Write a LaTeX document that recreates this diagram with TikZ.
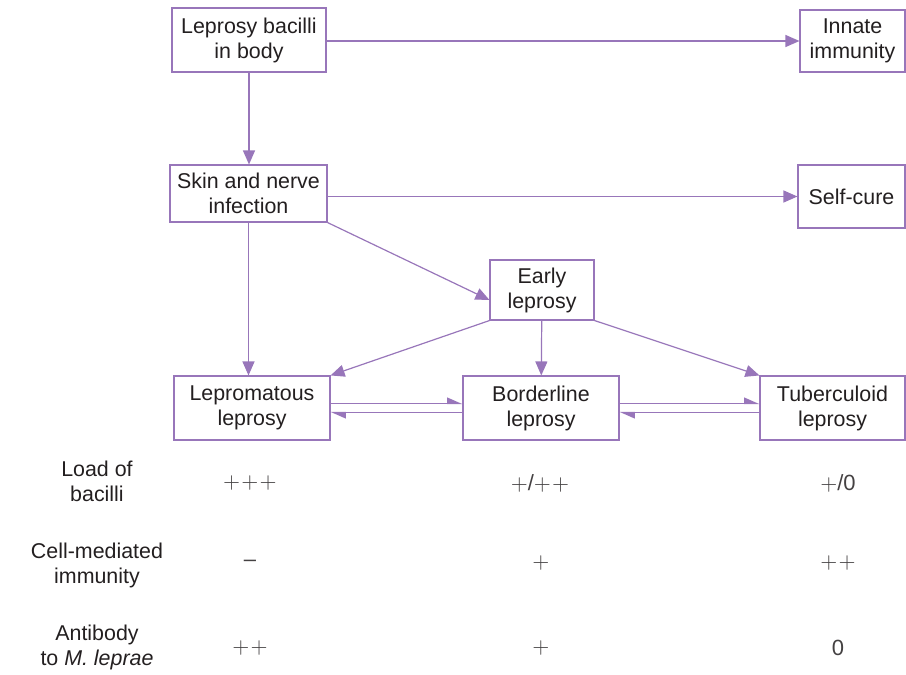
\documentclass[tikz,border=0pt]{standalone}
\usepackage{fontspec}
\setmainfont{Liberation Sans}
\usetikzlibrary{arrows.meta, positioning, calc}
\definecolor{lepPurple}{RGB}{152,118,186}
\definecolor{lepText}{RGB}{35,31,32}

\begin{document}
\begin{tikzpicture}[x=0.5pt, y=-0.5pt,
    box/.style={draw=lepPurple, line width=0.55pt, fill=white, align=center, inner sep=0pt,
      text=lepText, font=\fontsize{10.7}{12.5}\selectfont},
    lbl/.style={align=center, text=lepText, font=\fontsize{10.7}{12.5}\selectfont},
    val/.style={text=lepText!85, font=\fontsize{11}{13}\selectfont},
    flow/.style={draw=lepPurple, line width=0.6pt, -{Triangle[length=7pt, width=6pt]}},
    half/.style={draw=lepPurple, line width=0.6pt, -{Triangle[length=7pt, width=6pt, harpoon]}}]

  \useasboundingbox (0,0) rectangle (906,675);

  % boxes
  \node[box, minimum width=77pt, minimum height=32pt] (bacilli) at (249,40) {Leprosy bacilli\\in body};
  \node[box, minimum width=52.5pt, minimum height=31pt] (innate) at (852.5,41) {Innate\\immunity};
  \node[box, minimum width=78.5pt, minimum height=28.5pt] (skin) at (248.5,193.5) {Skin and nerve\\infection};
  \node[box, minimum width=53.5pt, minimum height=31.5pt] (selfcure) at (851.5,196.5) {Self-cure};
  \node[box, minimum width=52pt, minimum height=30pt] (early) at (542,290) {Early\\leprosy};
  \node[box, minimum width=78pt, minimum height=32pt] (lepro) at (252,408) {Lepromatous\\leprosy};
  \node[box, minimum width=78pt, minimum height=32pt] (border) at (541,408) {Borderline\\leprosy};
  \node[box, minimum width=72.5pt, minimum height=32pt] (tuber) at (832.5,408) {Tuberculoid\\leprosy};

  % arrows
  \draw[flow] (bacilli.east |- innate) -- (innate.west);
  \draw[flow] (bacilli) -- (bacilli |- skin.north);
  \draw[flow] (skin.east |- selfcure) -- (selfcure.west);
  \draw[flow] (skin.south east) -- ([yshift=-5pt]early.west);
  \draw[flow] (skin.south) -- (skin.south |- lepro.north);
  \draw[flow] (early.south west) -- (lepro.north east);
  \draw[flow] (early) -- (border);
  \draw[flow] (early.south east) -- (tuber.north west);

  \draw[half] ([yshift=2.25pt]lepro.east) -- ([yshift=2.25pt]border.west);
  \draw[half] ([yshift=-2.25pt]border.west) -- ([yshift=-2.25pt]lepro.east);
  \draw[half] ([yshift=2.25pt]border.east) -- ([yshift=2.25pt]tuber.west);
  \draw[half] ([yshift=-2.25pt]tuber.west) -- ([yshift=-2.25pt]border.east);

  % table below
  \node[lbl] (loadLbl) at (97,481) {Load of\\bacilli};
  \node[lbl] (cmiLbl) at (97,565) {Cell-mediated\\immunity};
  \node[lbl] (abLbl) at (97,647) {Antibody\\to \textit{M. leprae}};

  \node[val] (loadL) at (250,483) {${+}\mkern1mu{+}\mkern1mu{+}$};
  \node[val] (loadB) at (540,483) {${+}$/${+}\mkern1mu{+}$};
  \node[val] (loadT) at (838,483) {${+}$/0};

  \node[val] (cmiL) at (250,563) {–};
  \node[val] (cmiB) at (541,563) {${+}$};
  \node[val] (cmiT) at (838,563) {${+}\mkern1mu{+}$};

  \node[val] (abL) at (250,648) {${+}\mkern1mu{+}$};
  \node[val] (abB) at (541,648) {${+}$};
  \node[val] (abT) at (838,648) {0};
\end{tikzpicture}
\end{document}
